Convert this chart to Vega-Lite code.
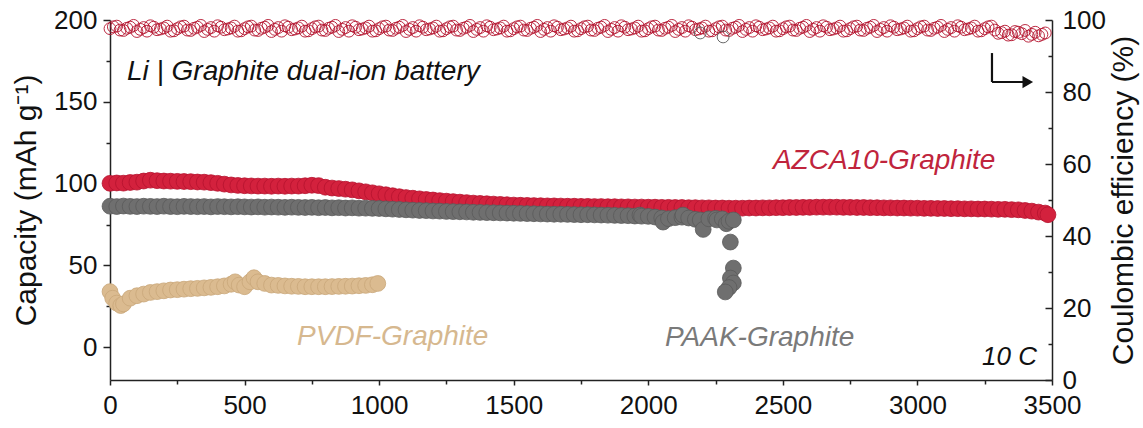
{
"$schema":"https://vega.github.io/schema/vega-lite/v6.json",
"width":942,"height":360,
"autosize":{"type":"none"},
"padding":{"left":110,"top":20,"right":91,"bottom":48},
"config":{"view":{"stroke":null},"font":"Liberation Sans",
"axis":{"domainColor":"#222","domainWidth":1.5,"tickColor":"#222","tickWidth":1.5,"labelColor":"#111","labelFontSize":26,"labelFont":"Liberation Sans","titleFont":"Liberation Sans","titleFontSize":30,"titleFontWeight":"normal","titleColor":"#111","grid":false,"labelFlush":false,"labelOverlap":false}},
"datasets":{
"cap":[
{"series":"AZCA10","cycle":0,"capacity":100.2},{"series":"AZCA10","cycle":25,"capacity":100.4},{"series":"AZCA10","cycle":50,"capacity":100.3},{"series":"AZCA10","cycle":75,"capacity":100.7},{"series":"AZCA10","cycle":100,"capacity":100.9},{"series":"AZCA10","cycle":125,"capacity":101.6},{"series":"AZCA10","cycle":150,"capacity":102.1},{"series":"AZCA10","cycle":175,"capacity":101.8},{"series":"AZCA10","cycle":200,"capacity":101.6},{"series":"AZCA10","cycle":225,"capacity":101.5},{"series":"AZCA10","cycle":250,"capacity":101.4},{"series":"AZCA10","cycle":275,"capacity":101.3},{"series":"AZCA10","cycle":300,"capacity":101.2},{"series":"AZCA10","cycle":325,"capacity":101.0},{"series":"AZCA10","cycle":350,"capacity":100.9},{"series":"AZCA10","cycle":375,"capacity":100.6},{"series":"AZCA10","cycle":400,"capacity":100.2},{"series":"AZCA10","cycle":425,"capacity":99.7},{"series":"AZCA10","cycle":450,"capacity":99.2},{"series":"AZCA10","cycle":475,"capacity":98.9},{"series":"AZCA10","cycle":500,"capacity":98.7},{"series":"AZCA10","cycle":525,"capacity":98.6},{"series":"AZCA10","cycle":550,"capacity":98.5},{"series":"AZCA10","cycle":575,"capacity":98.5},{"series":"AZCA10","cycle":600,"capacity":98.4},{"series":"AZCA10","cycle":625,"capacity":98.5},{"series":"AZCA10","cycle":650,"capacity":98.4},{"series":"AZCA10","cycle":675,"capacity":98.5},{"series":"AZCA10","cycle":700,"capacity":98.5},{"series":"AZCA10","cycle":725,"capacity":98.7},{"series":"AZCA10","cycle":750,"capacity":99.0},{"series":"AZCA10","cycle":775,"capacity":98.8},{"series":"AZCA10","cycle":800,"capacity":97.8},{"series":"AZCA10","cycle":825,"capacity":97.3},{"series":"AZCA10","cycle":850,"capacity":97.0},{"series":"AZCA10","cycle":875,"capacity":96.6},{"series":"AZCA10","cycle":900,"capacity":96.2},{"series":"AZCA10","cycle":925,"capacity":95.6},{"series":"AZCA10","cycle":950,"capacity":95.0},{"series":"AZCA10","cycle":975,"capacity":94.4},{"series":"AZCA10","cycle":1000,"capacity":93.8},{"series":"AZCA10","cycle":1025,"capacity":93.2},{"series":"AZCA10","cycle":1050,"capacity":92.6},{"series":"AZCA10","cycle":1075,"capacity":92.0},{"series":"AZCA10","cycle":1100,"capacity":91.5},{"series":"AZCA10","cycle":1125,"capacity":91.1},{"series":"AZCA10","cycle":1150,"capacity":90.7},{"series":"AZCA10","cycle":1175,"capacity":90.3},{"series":"AZCA10","cycle":1200,"capacity":90.0},{"series":"AZCA10","cycle":1225,"capacity":89.6},{"series":"AZCA10","cycle":1250,"capacity":89.3},{"series":"AZCA10","cycle":1275,"capacity":89.0},{"series":"AZCA10","cycle":1300,"capacity":88.7},{"series":"AZCA10","cycle":1325,"capacity":88.4},{"series":"AZCA10","cycle":1350,"capacity":88.1},{"series":"AZCA10","cycle":1375,"capacity":87.9},{"series":"AZCA10","cycle":1400,"capacity":87.7},{"series":"AZCA10","cycle":1425,"capacity":87.5},{"series":"AZCA10","cycle":1450,"capacity":87.3},{"series":"AZCA10","cycle":1475,"capacity":87.1},{"series":"AZCA10","cycle":1500,"capacity":86.9},{"series":"AZCA10","cycle":1525,"capacity":86.8},{"series":"AZCA10","cycle":1550,"capacity":86.7},{"series":"AZCA10","cycle":1575,"capacity":86.6},{"series":"AZCA10","cycle":1600,"capacity":86.5},{"series":"AZCA10","cycle":1625,"capacity":86.4},{"series":"AZCA10","cycle":1650,"capacity":86.4},{"series":"AZCA10","cycle":1675,"capacity":86.3},{"series":"AZCA10","cycle":1700,"capacity":86.2},{"series":"AZCA10","cycle":1725,"capacity":86.2},{"series":"AZCA10","cycle":1750,"capacity":86.1},{"series":"AZCA10","cycle":1775,"capacity":86.1},{"series":"AZCA10","cycle":1800,"capacity":86.0},{"series":"AZCA10","cycle":1825,"capacity":86.0},{"series":"AZCA10","cycle":1850,"capacity":85.9},{"series":"AZCA10","cycle":1875,"capacity":85.9},{"series":"AZCA10","cycle":1900,"capacity":85.8},{"series":"AZCA10","cycle":1925,"capacity":85.8},{"series":"AZCA10","cycle":1950,"capacity":85.7},{"series":"AZCA10","cycle":1975,"capacity":85.7},{"series":"AZCA10","cycle":2000,"capacity":85.6},{"series":"AZCA10","cycle":2025,"capacity":85.6},{"series":"AZCA10","cycle":2050,"capacity":85.5},{"series":"AZCA10","cycle":2075,"capacity":85.5},{"series":"AZCA10","cycle":2100,"capacity":85.4},{"series":"AZCA10","cycle":2125,"capacity":85.4},{"series":"AZCA10","cycle":2150,"capacity":85.3},{"series":"AZCA10","cycle":2175,"capacity":85.3},{"series":"AZCA10","cycle":2200,"capacity":85.2},{"series":"AZCA10","cycle":2225,"capacity":85.2},{"series":"AZCA10","cycle":2250,"capacity":85.1},{"series":"AZCA10","cycle":2275,"capacity":85.1},{"series":"AZCA10","cycle":2300,"capacity":85.0},{"series":"AZCA10","cycle":2325,"capacity":85.0},{"series":"AZCA10","cycle":2350,"capacity":85.0},{"series":"AZCA10","cycle":2375,"capacity":85.1},{"series":"AZCA10","cycle":2400,"capacity":85.1},{"series":"AZCA10","cycle":2425,"capacity":85.2},{"series":"AZCA10","cycle":2450,"capacity":85.2},{"series":"AZCA10","cycle":2475,"capacity":85.3},{"series":"AZCA10","cycle":2500,"capacity":85.3},{"series":"AZCA10","cycle":2525,"capacity":85.4},{"series":"AZCA10","cycle":2550,"capacity":85.4},{"series":"AZCA10","cycle":2575,"capacity":85.5},{"series":"AZCA10","cycle":2600,"capacity":85.5},{"series":"AZCA10","cycle":2625,"capacity":85.6},{"series":"AZCA10","cycle":2650,"capacity":85.6},{"series":"AZCA10","cycle":2675,"capacity":85.6},{"series":"AZCA10","cycle":2700,"capacity":85.6},{"series":"AZCA10","cycle":2725,"capacity":85.5},{"series":"AZCA10","cycle":2750,"capacity":85.5},{"series":"AZCA10","cycle":2775,"capacity":85.4},{"series":"AZCA10","cycle":2800,"capacity":85.4},{"series":"AZCA10","cycle":2825,"capacity":85.3},{"series":"AZCA10","cycle":2850,"capacity":85.3},{"series":"AZCA10","cycle":2875,"capacity":85.2},{"series":"AZCA10","cycle":2900,"capacity":85.2},{"series":"AZCA10","cycle":2925,"capacity":85.1},{"series":"AZCA10","cycle":2950,"capacity":85.1},{"series":"AZCA10","cycle":2975,"capacity":85.0},{"series":"AZCA10","cycle":3000,"capacity":85.0},{"series":"AZCA10","cycle":3025,"capacity":84.9},{"series":"AZCA10","cycle":3050,"capacity":84.9},{"series":"AZCA10","cycle":3075,"capacity":84.8},{"series":"AZCA10","cycle":3100,"capacity":84.8},{"series":"AZCA10","cycle":3125,"capacity":84.7},{"series":"AZCA10","cycle":3150,"capacity":84.7},{"series":"AZCA10","cycle":3175,"capacity":84.6},{"series":"AZCA10","cycle":3200,"capacity":84.6},{"series":"AZCA10","cycle":3225,"capacity":84.5},{"series":"AZCA10","cycle":3250,"capacity":84.5},{"series":"AZCA10","cycle":3275,"capacity":84.4},{"series":"AZCA10","cycle":3300,"capacity":84.3},{"series":"AZCA10","cycle":3325,"capacity":84.3},{"series":"AZCA10","cycle":3350,"capacity":84.1},{"series":"AZCA10","cycle":3375,"capacity":84.0},{"series":"AZCA10","cycle":3400,"capacity":83.6},{"series":"AZCA10","cycle":3425,"capacity":83.2},{"series":"AZCA10","cycle":3450,"capacity":82.6},{"series":"AZCA10","cycle":3475,"capacity":82.0},{"series":"AZCA10","cycle":3485,"capacity":81.0},
{"series":"PAAK","cycle":0,"capacity":86.2},{"series":"PAAK","cycle":25,"capacity":86.0},{"series":"PAAK","cycle":50,"capacity":86.3},{"series":"PAAK","cycle":75,"capacity":86.1},{"series":"PAAK","cycle":100,"capacity":86.0},{"series":"PAAK","cycle":125,"capacity":86.2},{"series":"PAAK","cycle":150,"capacity":86.1},{"series":"PAAK","cycle":175,"capacity":86.0},{"series":"PAAK","cycle":200,"capacity":86.2},{"series":"PAAK","cycle":225,"capacity":86.0},{"series":"PAAK","cycle":250,"capacity":85.9},{"series":"PAAK","cycle":275,"capacity":86.1},{"series":"PAAK","cycle":300,"capacity":86.0},{"series":"PAAK","cycle":325,"capacity":85.9},{"series":"PAAK","cycle":350,"capacity":86.0},{"series":"PAAK","cycle":375,"capacity":85.8},{"series":"PAAK","cycle":400,"capacity":86.0},{"series":"PAAK","cycle":425,"capacity":85.9},{"series":"PAAK","cycle":450,"capacity":85.8},{"series":"PAAK","cycle":475,"capacity":85.9},{"series":"PAAK","cycle":500,"capacity":85.8},{"series":"PAAK","cycle":525,"capacity":85.7},{"series":"PAAK","cycle":550,"capacity":85.8},{"series":"PAAK","cycle":575,"capacity":85.6},{"series":"PAAK","cycle":600,"capacity":85.7},{"series":"PAAK","cycle":625,"capacity":85.6},{"series":"PAAK","cycle":650,"capacity":85.5},{"series":"PAAK","cycle":675,"capacity":85.6},{"series":"PAAK","cycle":700,"capacity":85.5},{"series":"PAAK","cycle":725,"capacity":85.4},{"series":"PAAK","cycle":750,"capacity":85.5},{"series":"PAAK","cycle":775,"capacity":85.3},{"series":"PAAK","cycle":800,"capacity":85.4},{"series":"PAAK","cycle":825,"capacity":85.2},{"series":"PAAK","cycle":850,"capacity":85.3},{"series":"PAAK","cycle":875,"capacity":85.1},{"series":"PAAK","cycle":900,"capacity":85.2},{"series":"PAAK","cycle":925,"capacity":85.0},{"series":"PAAK","cycle":950,"capacity":85.0},{"series":"PAAK","cycle":975,"capacity":84.9},{"series":"PAAK","cycle":1000,"capacity":84.8},{"series":"PAAK","cycle":1025,"capacity":84.6},{"series":"PAAK","cycle":1050,"capacity":84.4},{"series":"PAAK","cycle":1075,"capacity":84.2},{"series":"PAAK","cycle":1100,"capacity":84.0},{"series":"PAAK","cycle":1125,"capacity":83.8},{"series":"PAAK","cycle":1150,"capacity":83.6},{"series":"PAAK","cycle":1175,"capacity":83.5},{"series":"PAAK","cycle":1200,"capacity":83.3},{"series":"PAAK","cycle":1225,"capacity":83.2},{"series":"PAAK","cycle":1250,"capacity":83.0},{"series":"PAAK","cycle":1275,"capacity":82.9},{"series":"PAAK","cycle":1300,"capacity":82.8},{"series":"PAAK","cycle":1325,"capacity":82.7},{"series":"PAAK","cycle":1350,"capacity":82.5},{"series":"PAAK","cycle":1375,"capacity":82.4},{"series":"PAAK","cycle":1400,"capacity":82.3},{"series":"PAAK","cycle":1425,"capacity":82.2},{"series":"PAAK","cycle":1450,"capacity":82.1},{"series":"PAAK","cycle":1475,"capacity":82.0},{"series":"PAAK","cycle":1500,"capacity":81.9},{"series":"PAAK","cycle":1525,"capacity":81.8},{"series":"PAAK","cycle":1550,"capacity":81.7},{"series":"PAAK","cycle":1575,"capacity":81.6},{"series":"PAAK","cycle":1600,"capacity":81.5},{"series":"PAAK","cycle":1625,"capacity":81.4},{"series":"PAAK","cycle":1650,"capacity":81.3},{"series":"PAAK","cycle":1675,"capacity":81.3},{"series":"PAAK","cycle":1700,"capacity":81.2},{"series":"PAAK","cycle":1725,"capacity":81.1},{"series":"PAAK","cycle":1750,"capacity":81.0},{"series":"PAAK","cycle":1775,"capacity":81.0},{"series":"PAAK","cycle":1800,"capacity":80.9},{"series":"PAAK","cycle":1825,"capacity":80.8},{"series":"PAAK","cycle":1850,"capacity":80.7},{"series":"PAAK","cycle":1875,"capacity":80.6},{"series":"PAAK","cycle":1900,"capacity":80.5},{"series":"PAAK","cycle":1925,"capacity":80.4},{"series":"PAAK","cycle":1950,"capacity":80.2},{"series":"PAAK","cycle":1969,"capacity":80.8},{"series":"PAAK","cycle":1975,"capacity":80.1},{"series":"PAAK","cycle":2000,"capacity":80.0},{"series":"PAAK","cycle":2025,"capacity":79.6},{"series":"PAAK","cycle":2050,"capacity":79.0},{"series":"PAAK","cycle":2055,"capacity":76.5},{"series":"PAAK","cycle":2075,"capacity":78.6},{"series":"PAAK","cycle":2100,"capacity":79.2},{"series":"PAAK","cycle":2125,"capacity":79.5},{"series":"PAAK","cycle":2129,"capacity":80.8},{"series":"PAAK","cycle":2150,"capacity":79.0},{"series":"PAAK","cycle":2175,"capacity":78.2},{"series":"PAAK","cycle":2193,"capacity":77.8},{"series":"PAAK","cycle":2204,"capacity":72.0},{"series":"PAAK","cycle":2225,"capacity":78.5},{"series":"PAAK","cycle":2250,"capacity":78.8},{"series":"PAAK","cycle":2255,"capacity":77.8},{"series":"PAAK","cycle":2275,"capacity":78.5},{"series":"PAAK","cycle":2290,"capacity":75.5},{"series":"PAAK","cycle":2300,"capacity":77.0},{"series":"PAAK","cycle":2316,"capacity":77.8},{"series":"PAAK","cycle":2305,"capacity":64.3},{"series":"PAAK","cycle":2316,"capacity":48.4},{"series":"PAAK","cycle":2305,"capacity":42.3},{"series":"PAAK","cycle":2316,"capacity":39.3},{"series":"PAAK","cycle":2300,"capacity":36.5},{"series":"PAAK","cycle":2286,"capacity":33.8},
{"series":"PVDF","cycle":0,"capacity":34.0},{"series":"PVDF","cycle":10,"capacity":30.0},{"series":"PVDF","cycle":25,"capacity":27.0},{"series":"PVDF","cycle":40,"capacity":25.5},{"series":"PVDF","cycle":50,"capacity":26.5},{"series":"PVDF","cycle":75,"capacity":30.0},{"series":"PVDF","cycle":100,"capacity":31.5},{"series":"PVDF","cycle":125,"capacity":32.5},{"series":"PVDF","cycle":150,"capacity":33.5},{"series":"PVDF","cycle":175,"capacity":34.0},{"series":"PVDF","cycle":200,"capacity":34.5},{"series":"PVDF","cycle":225,"capacity":35.0},{"series":"PVDF","cycle":250,"capacity":35.2},{"series":"PVDF","cycle":275,"capacity":35.5},{"series":"PVDF","cycle":300,"capacity":35.8},{"series":"PVDF","cycle":325,"capacity":36.0},{"series":"PVDF","cycle":350,"capacity":36.3},{"series":"PVDF","cycle":375,"capacity":36.6},{"series":"PVDF","cycle":400,"capacity":37.0},{"series":"PVDF","cycle":425,"capacity":37.5},{"series":"PVDF","cycle":450,"capacity":38.5},{"series":"PVDF","cycle":465,"capacity":40.0},{"series":"PVDF","cycle":480,"capacity":38.0},{"series":"PVDF","cycle":500,"capacity":37.0},{"series":"PVDF","cycle":520,"capacity":40.0},{"series":"PVDF","cycle":535,"capacity":42.5},{"series":"PVDF","cycle":550,"capacity":40.0},{"series":"PVDF","cycle":575,"capacity":39.0},{"series":"PVDF","cycle":600,"capacity":38.0},{"series":"PVDF","cycle":625,"capacity":37.8},{"series":"PVDF","cycle":650,"capacity":37.5},{"series":"PVDF","cycle":675,"capacity":37.3},{"series":"PVDF","cycle":700,"capacity":37.2},{"series":"PVDF","cycle":725,"capacity":37.0},{"series":"PVDF","cycle":750,"capacity":37.0},{"series":"PVDF","cycle":775,"capacity":37.0},{"series":"PVDF","cycle":800,"capacity":37.0},{"series":"PVDF","cycle":825,"capacity":37.1},{"series":"PVDF","cycle":850,"capacity":37.2},{"series":"PVDF","cycle":875,"capacity":37.3},{"series":"PVDF","cycle":900,"capacity":37.4},{"series":"PVDF","cycle":925,"capacity":37.6},{"series":"PVDF","cycle":950,"capacity":37.8},{"series":"PVDF","cycle":975,"capacity":38.2},{"series":"PVDF","cycle":995,"capacity":39.0}
],
"ce":[
{"series":"AZCA10b","cycle":12.5,"ce":98.1},{"series":"AZCA10b","cycle":37.5,"ce":97.2},{"series":"AZCA10b","cycle":62.5,"ce":97.7},{"series":"AZCA10b","cycle":87.5,"ce":98.5},{"series":"AZCA10b","cycle":112.5,"ce":97.4},{"series":"AZCA10b","cycle":137.5,"ce":96.9},{"series":"AZCA10b","cycle":162.5,"ce":98.0},{"series":"AZCA10b","cycle":187.5,"ce":97.5},{"series":"AZCA10b","cycle":212.5,"ce":98.3},{"series":"AZCA10b","cycle":237.5,"ce":97.0},
{"series":"AZCA10b","cycle":262.5,"ce":98.1},{"series":"AZCA10b","cycle":287.5,"ce":97.2},{"series":"AZCA10b","cycle":312.5,"ce":97.7},{"series":"AZCA10b","cycle":337.5,"ce":98.5},{"series":"AZCA10b","cycle":362.5,"ce":97.4},{"series":"AZCA10b","cycle":387.5,"ce":96.9},{"series":"AZCA10b","cycle":412.5,"ce":98.0},{"series":"AZCA10b","cycle":437.5,"ce":97.5},{"series":"AZCA10b","cycle":462.5,"ce":98.3},{"series":"AZCA10b","cycle":487.5,"ce":97.0},
{"series":"AZCA10b","cycle":512.5,"ce":98.1},{"series":"AZCA10b","cycle":537.5,"ce":97.2},{"series":"AZCA10b","cycle":562.5,"ce":97.7},{"series":"AZCA10b","cycle":587.5,"ce":98.5},{"series":"AZCA10b","cycle":612.5,"ce":97.4},{"series":"AZCA10b","cycle":637.5,"ce":96.9},{"series":"AZCA10b","cycle":662.5,"ce":98.0},{"series":"AZCA10b","cycle":687.5,"ce":97.5},{"series":"AZCA10b","cycle":712.5,"ce":98.3},{"series":"AZCA10b","cycle":737.5,"ce":97.0},
{"series":"AZCA10b","cycle":762.5,"ce":98.1},{"series":"AZCA10b","cycle":787.5,"ce":97.2},{"series":"AZCA10b","cycle":812.5,"ce":97.7},{"series":"AZCA10b","cycle":837.5,"ce":98.5},{"series":"AZCA10b","cycle":862.5,"ce":97.4},{"series":"AZCA10b","cycle":887.5,"ce":96.9},{"series":"AZCA10b","cycle":912.5,"ce":98.0},{"series":"AZCA10b","cycle":937.5,"ce":97.5},{"series":"AZCA10b","cycle":962.5,"ce":98.3},{"series":"AZCA10b","cycle":987.5,"ce":97.0},
{"series":"AZCA10b","cycle":1012.5,"ce":98.1},{"series":"AZCA10b","cycle":1037.5,"ce":97.2},{"series":"AZCA10b","cycle":1062.5,"ce":97.7},{"series":"AZCA10b","cycle":1087.5,"ce":98.5},{"series":"AZCA10b","cycle":1112.5,"ce":97.4},{"series":"AZCA10b","cycle":1137.5,"ce":96.9},{"series":"AZCA10b","cycle":1162.5,"ce":98.0},{"series":"AZCA10b","cycle":1187.5,"ce":97.5},{"series":"AZCA10b","cycle":1212.5,"ce":98.3},{"series":"AZCA10b","cycle":1237.5,"ce":97.0},
{"series":"AZCA10b","cycle":1262.5,"ce":98.1},{"series":"AZCA10b","cycle":1287.5,"ce":97.2},{"series":"AZCA10b","cycle":1312.5,"ce":97.7},{"series":"AZCA10b","cycle":1337.5,"ce":98.5},{"series":"AZCA10b","cycle":1362.5,"ce":97.4},{"series":"AZCA10b","cycle":1387.5,"ce":96.9},{"series":"AZCA10b","cycle":1412.5,"ce":98.0},{"series":"AZCA10b","cycle":1437.5,"ce":97.5},{"series":"AZCA10b","cycle":1462.5,"ce":98.3},{"series":"AZCA10b","cycle":1487.5,"ce":97.0},
{"series":"AZCA10b","cycle":1512.5,"ce":98.1},{"series":"AZCA10b","cycle":1537.5,"ce":97.2},{"series":"AZCA10b","cycle":1562.5,"ce":97.7},{"series":"AZCA10b","cycle":1587.5,"ce":98.5},{"series":"AZCA10b","cycle":1612.5,"ce":97.4},{"series":"AZCA10b","cycle":1637.5,"ce":96.9},{"series":"AZCA10b","cycle":1662.5,"ce":98.0},{"series":"AZCA10b","cycle":1687.5,"ce":97.5},{"series":"AZCA10b","cycle":1712.5,"ce":98.3},{"series":"AZCA10b","cycle":1737.5,"ce":97.0},
{"series":"AZCA10b","cycle":1762.5,"ce":98.1},{"series":"AZCA10b","cycle":1787.5,"ce":97.2},{"series":"AZCA10b","cycle":1812.5,"ce":97.7},{"series":"AZCA10b","cycle":1837.5,"ce":98.5},{"series":"AZCA10b","cycle":1862.5,"ce":97.4},{"series":"AZCA10b","cycle":1887.5,"ce":96.9},{"series":"AZCA10b","cycle":1912.5,"ce":98.0},{"series":"AZCA10b","cycle":1937.5,"ce":97.5},{"series":"AZCA10b","cycle":1962.5,"ce":98.3},{"series":"AZCA10b","cycle":1987.5,"ce":97.0},
{"series":"AZCA10b","cycle":2012.5,"ce":98.1},{"series":"AZCA10b","cycle":2037.5,"ce":97.2},{"series":"AZCA10b","cycle":2062.5,"ce":97.7},{"series":"AZCA10b","cycle":2087.5,"ce":98.5},{"series":"AZCA10b","cycle":2112.5,"ce":97.4},{"series":"AZCA10b","cycle":2137.5,"ce":96.9},{"series":"AZCA10b","cycle":2162.5,"ce":98.0},{"series":"AZCA10b","cycle":2187.5,"ce":97.5},{"series":"AZCA10b","cycle":2212.5,"ce":98.3},{"series":"AZCA10b","cycle":2237.5,"ce":97.0},
{"series":"AZCA10b","cycle":2262.5,"ce":98.1},{"series":"AZCA10b","cycle":2287.5,"ce":97.2},{"series":"AZCA10b","cycle":2312.5,"ce":97.7},{"series":"AZCA10b","cycle":2337.5,"ce":98.5},{"series":"AZCA10b","cycle":2362.5,"ce":97.4},{"series":"AZCA10b","cycle":2387.5,"ce":96.9},{"series":"AZCA10b","cycle":2412.5,"ce":98.0},{"series":"AZCA10b","cycle":2437.5,"ce":97.5},{"series":"AZCA10b","cycle":2462.5,"ce":98.3},{"series":"AZCA10b","cycle":2487.5,"ce":97.0},
{"series":"AZCA10b","cycle":2512.5,"ce":98.1},{"series":"AZCA10b","cycle":2537.5,"ce":97.2},{"series":"AZCA10b","cycle":2562.5,"ce":97.7},{"series":"AZCA10b","cycle":2587.5,"ce":98.5},{"series":"AZCA10b","cycle":2612.5,"ce":97.4},{"series":"AZCA10b","cycle":2637.5,"ce":96.9},{"series":"AZCA10b","cycle":2662.5,"ce":98.0},{"series":"AZCA10b","cycle":2687.5,"ce":97.5},{"series":"AZCA10b","cycle":2712.5,"ce":98.3},{"series":"AZCA10b","cycle":2737.5,"ce":97.0},
{"series":"AZCA10b","cycle":2762.5,"ce":98.1},{"series":"AZCA10b","cycle":2787.5,"ce":97.2},{"series":"AZCA10b","cycle":2812.5,"ce":97.7},{"series":"AZCA10b","cycle":2837.5,"ce":98.5},{"series":"AZCA10b","cycle":2862.5,"ce":97.4},{"series":"AZCA10b","cycle":2887.5,"ce":96.9},{"series":"AZCA10b","cycle":2912.5,"ce":98.0},{"series":"AZCA10b","cycle":2937.5,"ce":97.5},{"series":"AZCA10b","cycle":2962.5,"ce":98.3},{"series":"AZCA10b","cycle":2987.5,"ce":97.0},
{"series":"AZCA10b","cycle":3012.5,"ce":98.1},{"series":"AZCA10b","cycle":3037.5,"ce":97.2},{"series":"AZCA10b","cycle":3062.5,"ce":97.7},{"series":"AZCA10b","cycle":3087.5,"ce":98.5},{"series":"AZCA10b","cycle":3112.5,"ce":97.4},{"series":"AZCA10b","cycle":3137.5,"ce":96.9},{"series":"AZCA10b","cycle":3162.5,"ce":98.0},{"series":"AZCA10b","cycle":3187.5,"ce":97.5},{"series":"AZCA10b","cycle":3212.5,"ce":98.3},{"series":"AZCA10b","cycle":3237.5,"ce":97.0},
{"series":"AZCA10b","cycle":3262.5,"ce":98.1},{"series":"AZCA10b","cycle":3287.5,"ce":97.2},{"series":"AZCA10b","cycle":3312.5,"ce":96.5},{"series":"AZCA10b","cycle":3337.5,"ce":95.8},{"series":"AZCA10b","cycle":3362.5,"ce":96.8},{"series":"AZCA10b","cycle":3387.5,"ce":96.2},{"series":"AZCA10b","cycle":3412.5,"ce":95.5},{"series":"AZCA10b","cycle":3437.5,"ce":96.6},{"series":"AZCA10b","cycle":3462.5,"ce":96.0},
{"series":"AZCA10","cycle":0,"ce":97.6},{"series":"AZCA10","cycle":25,"ce":98.3},{"series":"AZCA10","cycle":50,"ce":97.1},{"series":"AZCA10","cycle":75,"ce":98.0},{"series":"AZCA10","cycle":100,"ce":96.8},{"series":"AZCA10","cycle":125,"ce":97.9},{"series":"AZCA10","cycle":150,"ce":98.4},{"series":"AZCA10","cycle":175,"ce":97.3},{"series":"AZCA10","cycle":200,"ce":97.8},{"series":"AZCA10","cycle":225,"ce":96.9},
{"series":"AZCA10","cycle":250,"ce":97.6},{"series":"AZCA10","cycle":275,"ce":98.3},{"series":"AZCA10","cycle":300,"ce":97.1},{"series":"AZCA10","cycle":325,"ce":98.0},{"series":"AZCA10","cycle":350,"ce":96.8},{"series":"AZCA10","cycle":375,"ce":97.9},{"series":"AZCA10","cycle":400,"ce":98.4},{"series":"AZCA10","cycle":425,"ce":97.3},{"series":"AZCA10","cycle":450,"ce":97.8},{"series":"AZCA10","cycle":475,"ce":96.9},
{"series":"AZCA10","cycle":500,"ce":97.6},{"series":"AZCA10","cycle":525,"ce":98.3},{"series":"AZCA10","cycle":550,"ce":97.1},{"series":"AZCA10","cycle":575,"ce":98.0},{"series":"AZCA10","cycle":600,"ce":96.8},{"series":"AZCA10","cycle":625,"ce":97.9},{"series":"AZCA10","cycle":650,"ce":98.4},{"series":"AZCA10","cycle":675,"ce":97.3},{"series":"AZCA10","cycle":700,"ce":97.8},{"series":"AZCA10","cycle":725,"ce":96.9},
{"series":"AZCA10","cycle":750,"ce":97.6},{"series":"AZCA10","cycle":775,"ce":98.3},{"series":"AZCA10","cycle":800,"ce":97.1},{"series":"AZCA10","cycle":825,"ce":98.0},{"series":"AZCA10","cycle":850,"ce":96.8},{"series":"AZCA10","cycle":875,"ce":97.9},{"series":"AZCA10","cycle":900,"ce":98.4},{"series":"AZCA10","cycle":925,"ce":97.3},{"series":"AZCA10","cycle":950,"ce":97.8},{"series":"AZCA10","cycle":975,"ce":96.9},
{"series":"AZCA10","cycle":1000,"ce":97.6},{"series":"AZCA10","cycle":1025,"ce":98.3},{"series":"AZCA10","cycle":1050,"ce":97.1},{"series":"AZCA10","cycle":1075,"ce":98.0},{"series":"AZCA10","cycle":1100,"ce":96.8},{"series":"AZCA10","cycle":1125,"ce":97.9},{"series":"AZCA10","cycle":1150,"ce":98.4},{"series":"AZCA10","cycle":1175,"ce":97.3},{"series":"AZCA10","cycle":1200,"ce":97.8},{"series":"AZCA10","cycle":1225,"ce":96.9},
{"series":"AZCA10","cycle":1250,"ce":97.6},{"series":"AZCA10","cycle":1275,"ce":98.3},{"series":"AZCA10","cycle":1300,"ce":97.1},{"series":"AZCA10","cycle":1325,"ce":98.0},{"series":"AZCA10","cycle":1350,"ce":96.8},{"series":"AZCA10","cycle":1375,"ce":97.9},{"series":"AZCA10","cycle":1400,"ce":98.4},{"series":"AZCA10","cycle":1425,"ce":97.3},{"series":"AZCA10","cycle":1450,"ce":97.8},{"series":"AZCA10","cycle":1475,"ce":96.9},
{"series":"AZCA10","cycle":1500,"ce":97.6},{"series":"AZCA10","cycle":1525,"ce":98.3},{"series":"AZCA10","cycle":1550,"ce":97.1},{"series":"AZCA10","cycle":1575,"ce":98.0},{"series":"AZCA10","cycle":1600,"ce":96.8},{"series":"AZCA10","cycle":1625,"ce":97.9},{"series":"AZCA10","cycle":1650,"ce":98.4},{"series":"AZCA10","cycle":1675,"ce":97.3},{"series":"AZCA10","cycle":1700,"ce":97.8},{"series":"AZCA10","cycle":1725,"ce":96.9},
{"series":"AZCA10","cycle":1750,"ce":97.6},{"series":"AZCA10","cycle":1775,"ce":98.3},{"series":"AZCA10","cycle":1800,"ce":97.1},{"series":"AZCA10","cycle":1825,"ce":98.0},{"series":"AZCA10","cycle":1850,"ce":96.8},{"series":"AZCA10","cycle":1875,"ce":97.9},{"series":"AZCA10","cycle":1900,"ce":98.4},{"series":"AZCA10","cycle":1925,"ce":97.3},{"series":"AZCA10","cycle":1950,"ce":97.8},{"series":"AZCA10","cycle":1975,"ce":96.9},
{"series":"AZCA10","cycle":2000,"ce":97.6},{"series":"AZCA10","cycle":2025,"ce":98.3},{"series":"AZCA10","cycle":2050,"ce":97.1},{"series":"AZCA10","cycle":2075,"ce":98.0},{"series":"AZCA10","cycle":2100,"ce":96.8},{"series":"AZCA10","cycle":2125,"ce":97.9},{"series":"AZCA10","cycle":2150,"ce":98.4},{"series":"AZCA10","cycle":2175,"ce":97.3},{"series":"AZCA10","cycle":2200,"ce":97.8},{"series":"AZCA10","cycle":2225,"ce":96.9},
{"series":"AZCA10","cycle":2250,"ce":97.6},{"series":"AZCA10","cycle":2275,"ce":98.3},{"series":"AZCA10","cycle":2300,"ce":97.1},{"series":"AZCA10","cycle":2325,"ce":98.0},{"series":"AZCA10","cycle":2350,"ce":96.8},{"series":"AZCA10","cycle":2375,"ce":97.9},{"series":"AZCA10","cycle":2400,"ce":98.4},{"series":"AZCA10","cycle":2425,"ce":97.3},{"series":"AZCA10","cycle":2450,"ce":97.8},{"series":"AZCA10","cycle":2475,"ce":96.9},
{"series":"AZCA10","cycle":2500,"ce":97.6},{"series":"AZCA10","cycle":2525,"ce":98.3},{"series":"AZCA10","cycle":2550,"ce":97.1},{"series":"AZCA10","cycle":2575,"ce":98.0},{"series":"AZCA10","cycle":2600,"ce":96.8},{"series":"AZCA10","cycle":2625,"ce":97.9},{"series":"AZCA10","cycle":2650,"ce":98.4},{"series":"AZCA10","cycle":2675,"ce":97.3},{"series":"AZCA10","cycle":2700,"ce":97.8},{"series":"AZCA10","cycle":2725,"ce":96.9},
{"series":"AZCA10","cycle":2750,"ce":97.6},{"series":"AZCA10","cycle":2775,"ce":98.3},{"series":"AZCA10","cycle":2800,"ce":97.1},{"series":"AZCA10","cycle":2825,"ce":98.0},{"series":"AZCA10","cycle":2850,"ce":96.8},{"series":"AZCA10","cycle":2875,"ce":97.9},{"series":"AZCA10","cycle":2900,"ce":98.4},{"series":"AZCA10","cycle":2925,"ce":97.3},{"series":"AZCA10","cycle":2950,"ce":97.8},{"series":"AZCA10","cycle":2975,"ce":96.9},
{"series":"AZCA10","cycle":3000,"ce":97.6},{"series":"AZCA10","cycle":3025,"ce":98.3},{"series":"AZCA10","cycle":3050,"ce":97.1},{"series":"AZCA10","cycle":3075,"ce":98.0},{"series":"AZCA10","cycle":3100,"ce":96.8},{"series":"AZCA10","cycle":3125,"ce":97.9},{"series":"AZCA10","cycle":3150,"ce":98.4},{"series":"AZCA10","cycle":3175,"ce":97.3},{"series":"AZCA10","cycle":3200,"ce":97.8},{"series":"AZCA10","cycle":3225,"ce":96.9},
{"series":"AZCA10","cycle":3250,"ce":97.6},{"series":"AZCA10","cycle":3275,"ce":98.3},{"series":"AZCA10","cycle":3300,"ce":96.3},{"series":"AZCA10","cycle":3325,"ce":96.9},{"series":"AZCA10","cycle":3350,"ce":95.9},{"series":"AZCA10","cycle":3375,"ce":96.6},{"series":"AZCA10","cycle":3400,"ce":97.1},{"series":"AZCA10","cycle":3425,"ce":96.0},{"series":"AZCA10","cycle":3450,"ce":95.6},{"series":"AZCA10","cycle":3475,"ce":96.4},
{"series":"PAAK","cycle":2193,"ce":96.4},{"series":"PAAK","cycle":2278,"ce":95.3}
],
"labels":[
{"text":"Li | Graphite dual-ion battery","cycle":63,"capacity":163.3},
{"text":"AZCA10-Graphite","cycle":2463,"capacity":108.7},
{"text":"PVDF-Graphite","cycle":695,"capacity":1.5},
{"text":"PAAK-Graphite","cycle":2062,"capacity":1.0}
],
"rate":[{"text":"10 C","cycle":3444,"ce":4.2}],
"arrow":[
{"cycle":3277,"capacity":179.8,"cycle2":3277,"capacity2":162.1},
{"cycle":3277,"capacity":162.1,"cycle2":3400,"capacity2":162.1}
],
"head":[{"cycle":3410,"capacity":162.1}]
},
"layer":[
{"data":{"name":"cap"},
 "mark":{"type":"circle","size":250,"opacity":1,"strokeWidth":0.8},
 "encoding":{
  "x":{"field":"cycle","type":"quantitative","scale":{"domain":[0,3500],"nice":false,"zero":false},
       "axis":{"orient":"bottom","values":[0,500,1000,1500,2000,2500,3000,3500],"format":"d","tickSize":5,"labelPadding":7,"title":null}},
  "y":{"field":"capacity","type":"quantitative","scale":{"domain":[-20,200],"nice":false,"zero":false},
       "axis":{"orient":"left","values":[0,50,100,150,200],"tickSize":7,"labelPadding":6,"title":"Capacity (mAh g⁻¹)","titlePadding":12}},
  "fill":{"field":"series","type":"nominal","scale":{"domain":["AZCA10","PAAK","PVDF"],"range":["#d3213d","#6f6f6f","#dbbb90"]},"legend":null},
  "stroke":{"field":"series","type":"nominal","scale":{"domain":["AZCA10","PAAK","PVDF"],"range":["#b5132e","#5a5a5a","#c9a77a"]},"legend":null}
 }},
{"data":{"name":"ce"},
 "mark":{"type":"point","shape":"circle","filled":false,"size":140,"strokeWidth":1,"opacity":0.9},
 "encoding":{
  "x":{"field":"cycle","type":"quantitative","scale":{"domain":[0,3500],"nice":false,"zero":false},"axis":null},
  "y":{"field":"ce","type":"quantitative","scale":{"domain":[0,100],"nice":false,"zero":false},
       "axis":{"orient":"right","values":[0,20,40,60,80,100],"tickSize":-7,"labelPadding":17,"title":"Coulombic efficiency (%)","titleAngle":270,"titleBaseline":"top","titlePadding":3}},
  "stroke":{"field":"series","type":"nominal","scale":{"domain":["AZCA10","AZCA10b","PAAK"],"range":["#9c2f42","#d08f9b","#b8b8b8"]},"legend":null}
 }},
{"data":{"name":"labels"},
 "mark":{"type":"text","align":"left","baseline":"alphabetic","fontSize":28,"fontStyle":"italic","font":"Liberation Sans"},
 "encoding":{
  "x":{"field":"cycle","type":"quantitative","scale":{"domain":[0,3500],"nice":false,"zero":false},
       "axis":{"orient":"bottom","values":[250,750,1250,1750,2250,2750,3250],"tickSize":4,"labels":false,"domain":false,"title":null}},
  "y":{"field":"capacity","type":"quantitative","scale":{"domain":[-20,200],"nice":false,"zero":false},
       "axis":{"orient":"left","values":[25,75,125,175],"tickSize":4,"labels":false,"domain":false,"title":null}},
  "text":{"field":"text"},
  "color":{"field":"text","type":"nominal","scale":{"domain":["Li | Graphite dual-ion battery","AZCA10-Graphite","PVDF-Graphite","PAAK-Graphite"],"range":["#111111","#c0243c","#d6b88f","#7a7a7a"]},"legend":null}
 }},
{"data":{"name":"rate"},
 "mark":{"type":"text","align":"right","baseline":"alphabetic","fontSize":26,"fontStyle":"italic","font":"Liberation Sans","color":"#111111"},
 "encoding":{
  "x":{"field":"cycle","type":"quantitative","scale":{"domain":[0,3500],"nice":false,"zero":false},"axis":null},
  "y":{"field":"ce","type":"quantitative","scale":{"domain":[0,100],"nice":false,"zero":false},
       "axis":{"orient":"right","values":[10,30,50,70,90],"tickSize":-4,"labels":false,"domain":false,"title":null}},
  "text":{"field":"text"}
 }},
{"data":{"name":"arrow"},
 "mark":{"type":"rule","color":"#111111","strokeWidth":2.2},
 "encoding":{
  "x":{"field":"cycle","type":"quantitative","scale":{"domain":[0,3500],"nice":false,"zero":false},"axis":null},
  "x2":{"field":"cycle2"},
  "y":{"field":"capacity","type":"quantitative","scale":{"domain":[-20,200],"nice":false,"zero":false},"axis":null},
  "y2":{"field":"capacity2"}
 }},
{"data":{"name":"head"},
 "mark":{"type":"point","shape":"triangle-right","filled":true,"size":150,"color":"#111111","opacity":1},
 "encoding":{
  "x":{"field":"cycle","type":"quantitative","scale":{"domain":[0,3500],"nice":false,"zero":false},"axis":null},
  "y":{"field":"capacity","type":"quantitative","scale":{"domain":[-20,200],"nice":false,"zero":false},"axis":null}
 }}
],
"resolve":{"scale":{"y":"independent"},"axis":{"x":"independent","y":"independent"}}
}
